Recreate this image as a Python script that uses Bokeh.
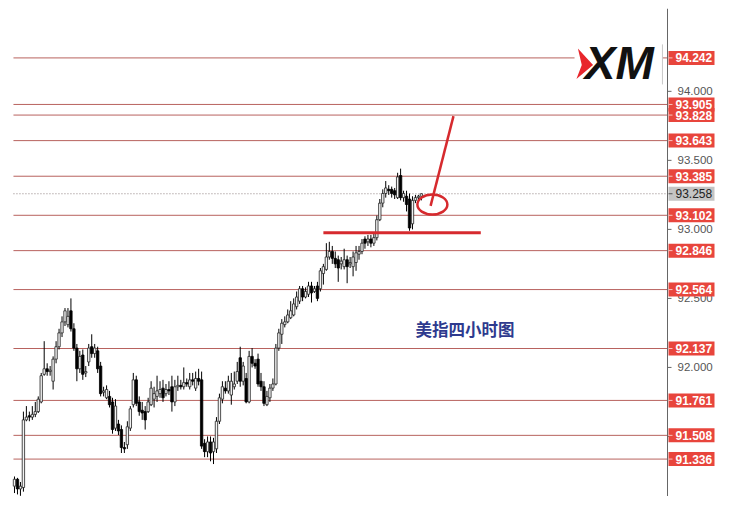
import numpy as np
from bokeh.plotting import figure
from bokeh.models import Range1d
from bokeh.embed import file_html
from bokeh.resources import INLINE
from bokeh.core.properties import value

# ---- data (USD index, 4h candles) ----
opens = [91.14, 91.19, 91.12, 91.13, 91.62, 91.65, 91.64, 91.66, 91.68, 91.75,
         91.95, 91.99, 91.97, 91.90, 92.06, 92.15, 92.25, 92.33, 92.31, 92.41,
         92.28, 92.14, 91.99, 92.09, 91.96, 92.04, 92.15, 92.10, 92.12, 92.01,
         91.82, 91.78, 91.79, 91.75, 91.56, 91.59, 91.55, 91.42, 91.44, 91.56,
         91.73, 91.91, 91.75, 91.69, 91.68, 91.68, 91.73, 91.77, 91.79, 91.81,
         91.85, 91.81, 91.84, 91.86, 91.75, 91.86, 91.87, 91.86, 91.89, 91.86,
         91.91, 91.85, 91.92, 91.91, 91.45, 91.39, 91.46, 91.39, 91.41, 91.61,
         91.77, 91.85, 91.83, 91.80, 91.86, 91.90, 92.07, 91.90, 91.92, 91.75,
         92.08, 92.03, 92.06, 91.90, 91.86, 91.73, 91.78, 91.85, 91.88, 92.14,
         92.24, 92.31, 92.33, 92.36, 92.38, 92.44, 92.48, 92.57, 92.51, 92.53,
         92.59, 92.55, 92.59, 92.57, 92.68, 92.71, 92.80, 92.84, 92.79, 92.78,
         92.75, 92.73, 92.78, 92.75, 92.73, 92.76, 92.82, 92.84, 92.93, 92.91,
         92.93, 92.90, 92.94, 93.07, 93.19, 93.26, 93.29, 93.29, 93.28, 93.23,
         93.39, 93.23, 93.24, 93.22, 93.04, 93.21, 93.23, 93.24]
highs = [91.21, 91.20, 91.17, 91.68, 91.72, 91.68, 91.72, 91.75, 91.79, 91.96,
         92.19, 92.03, 92.01, 92.08, 92.19, 92.28, 92.37, 92.43, 92.43, 92.50,
         92.32, 92.17, 92.12, 92.13, 92.01, 92.17, 92.24, 92.17, 92.15, 92.04,
         91.86, 91.87, 91.83, 91.78, 91.77, 91.62, 91.58, 91.46, 91.61, 91.72,
         91.96, 91.94, 91.79, 91.75, 91.72, 91.78, 91.90, 91.86, 91.94, 91.90,
         91.91, 91.88, 91.90, 91.94, 91.91, 91.94, 91.91, 92.00, 91.92, 91.96,
         91.96, 91.97, 91.99, 91.97, 91.48, 91.50, 91.50, 91.49, 91.64, 91.81,
         91.90, 91.90, 91.94, 91.96, 91.97, 92.04, 92.15, 92.04, 91.96, 92.12,
         92.14, 92.06, 92.10, 91.96, 91.90, 91.83, 91.88, 91.92, 92.17, 92.28,
         92.35, 92.37, 92.42, 92.48, 92.50, 92.55, 92.59, 92.59, 92.58, 92.62,
         92.62, 92.59, 92.62, 92.72, 92.75, 92.90, 92.91, 92.88, 92.84, 92.81,
         92.80, 92.86, 92.81, 92.80, 92.84, 92.88, 92.88, 92.93, 92.95, 92.96,
         92.96, 92.97, 93.10, 93.22, 93.29, 93.35, 93.32, 93.31, 93.30, 93.41,
         93.44, 93.28, 93.28, 93.26, 93.24, 93.25, 93.25, 93.26]
lows = [91.09, 91.08, 91.07, 91.10, 91.61, 91.61, 91.62, 91.64, 91.67, 91.74,
        91.94, 91.94, 91.94, 91.84, 92.03, 92.13, 92.22, 92.30, 92.29, 92.26,
        92.12, 91.90, 91.96, 91.91, 91.93, 92.01, 92.07, 92.07, 91.96, 91.79,
        91.79, 91.77, 91.71, 91.52, 91.54, 91.51, 91.38, 91.38, 91.41, 91.54,
        91.71, 91.72, 91.65, 91.62, 91.55, 91.67, 91.72, 91.71, 91.75, 91.78,
        91.75, 91.79, 91.80, 91.68, 91.72, 91.83, 91.84, 91.84, 91.86, 91.84,
        91.87, 91.83, 91.87, 91.41, 91.35, 91.35, 91.32, 91.30, 91.38, 91.59,
        91.74, 91.81, 91.81, 91.73, 91.84, 91.88, 91.86, 91.87, 91.74, 91.74,
        92.00, 91.99, 91.86, 91.83, 91.72, 91.72, 91.75, 91.83, 91.87, 92.12,
        92.17, 92.29, 92.32, 92.35, 92.37, 92.42, 92.46, 92.48, 92.50, 92.51,
        92.47, 92.54, 92.48, 92.55, 92.60, 92.70, 92.78, 92.75, 92.72, 92.62,
        92.71, 92.71, 92.61, 92.72, 92.66, 92.70, 92.78, 92.82, 92.86, 92.88,
        92.87, 92.88, 92.92, 93.06, 93.16, 93.23, 93.25, 93.23, 93.22, 93.22,
        93.21, 93.20, 93.13, 92.99, 93.00, 93.19, 93.20, 93.21]
closes = [91.19, 91.12, 91.14, 91.62, 91.64, 91.64, 91.66, 91.68, 91.77, 91.94,
          91.99, 91.97, 91.98, 92.06, 92.15, 92.25, 92.33, 92.41, 92.37, 92.28,
          92.14, 91.99, 92.08, 91.95, 91.97, 92.14, 92.10, 92.14, 91.99, 91.81,
          91.83, 91.84, 91.73, 91.55, 91.72, 91.54, 91.42, 91.41, 91.57, 91.70,
          91.91, 91.74, 91.68, 91.67, 91.62, 91.75, 91.85, 91.81, 91.83, 91.84,
          91.78, 91.84, 91.83, 91.75, 91.86, 91.87, 91.86, 91.89, 91.88, 91.91,
          91.90, 91.92, 91.90, 91.43, 91.39, 91.46, 91.38, 91.46, 91.61, 91.78,
          91.86, 91.83, 91.90, 91.90, 91.88, 91.97, 91.90, 92.01, 91.75, 92.08,
          92.03, 92.01, 91.88, 91.86, 91.74, 91.79, 91.85, 91.88, 92.14, 92.25,
          92.32, 92.33, 92.38, 92.41, 92.46, 92.51, 92.57, 92.51, 92.55, 92.59,
          92.54, 92.57, 92.50, 92.70, 92.73, 92.80, 92.84, 92.79, 92.75, 92.72,
          92.77, 92.78, 92.73, 92.76, 92.80, 92.83, 92.84, 92.90, 92.90, 92.93,
          92.90, 92.94, 93.07, 93.19, 93.26, 93.30, 93.28, 93.26, 93.25, 93.38,
          93.23, 93.26, 93.18, 93.01, 93.21, 93.23, 93.24, 93.258]

levels = [94.242, 93.905, 93.828, 93.643, 93.385, 93.102, 92.846, 92.564,
          92.137, 91.761, 91.508, 91.336]
current_price = 93.258
support_level = 92.975
axis_ticks = [91.5, 92.0, 92.5, 93.0, 93.5, 94.0]
chart_title = "美指四小时图"
logo_text = "XM"

# ---- geometry (candle-index units / price units) ----
PX = 2.97            # pixels per candle
PY = 0.007247        # price per pixel
FW = 716             # frame width in pixels
X0 = -2.02
X1 = X0 + FW / PX
Y0, Y1 = 91.065, 94.60
AX = X0 + 659 / PX   # price-axis position (right edge of chart area)

support_x = (104, 157)
circle_xy = (140.7, 93.18)
arrow_from = (140.1, 93.17)
arrow_to = (147.8, 93.82)
title_xy = (135.0, 92.28)

n = len(closes)
idx = np.arange(n)
o = np.array(opens); h = np.array(highs); l = np.array(lows); c = np.array(closes)
inc = c >= o

p = figure(frame_width=FW, frame_height=488,
           x_range=Range1d(X0, X1), y_range=Range1d(Y0, Y1),
           x_axis_location=None, y_axis_location=None,
           output_backend="svg", toolbar_location=None,
           min_border_left=8, min_border_top=8, min_border_bottom=0, min_border_right=0,
           background_fill_color="white", border_fill_color="white")
p.outline_line_color = None
p.grid.grid_line_color = None

# horizontal level lines
line_start = idx[0] - 0.35
nl = len(levels)
p.segment(x0=[line_start] * nl, y0=levels, x1=[AX] * nl, y1=levels,
          line_color="#b8625e", line_width=1)
p.segment(x0=[line_start], y0=[current_price], x1=[AX], y1=[current_price],
          line_color="#8f8080", line_width=1, line_dash="1 2")

# candles
p.segment(idx, h, idx, l, line_color="black", line_width=1)
p.vbar(x=idx[inc], width=0.8, top=c[inc], bottom=o[inc],
       fill_color="#f2f2f2", line_color="#222222", line_width=0.8)
p.vbar(x=idx[~inc], width=0.8, top=o[~inc], bottom=c[~inc],
       fill_color="black", line_color="black", line_width=0.8)

# support line, circle and arrow
p.segment(x0=[support_x[0]], y0=[support_level], x1=[support_x[1]], y1=[support_level],
          line_color="#d62a2e", line_width=3)
p.ellipse(x=[circle_xy[0]], y=[circle_xy[1]], width=10.1, height=0.145,
          fill_color=None, line_color="#d62a2e", line_width=2.5)
p.segment(x0=[arrow_from[0]], y0=[arrow_from[1]], x1=[arrow_to[0]], y1=[arrow_to[1]],
          line_color="#d62a2e", line_width=2.5)

# chart caption
p.text(x=[title_xy[0]], y=[title_xy[1]], text=[chart_title],
       text_font=value("Noto Sans CJK SC"), text_font_size="16.5px",
       text_font_style="bold", text_color="#2e3a8e", text_baseline="middle")

# XM logo
p.quad(left=[AX - 31.3], right=[AX - 1.8], bottom=[94.045], top=[94.36],
       fill_color="white", line_color=None)
p.patch(x=[189.7, 194.8, 189.2, 191.0], y=[94.31, 94.19, 94.09, 94.19],
        fill_color="#e8262c", line_color=None)
p.text(x=[192.0], y=[94.205], text=[logo_text],
       text_font=value("Liberation Sans"), text_font_size="46px",
       text_font_style="bold italic", text_color="#111111", text_baseline="middle")
p.segment(x0=[AX - 1.7], y0=[94.05], x1=[AX - 1.7], y1=[94.34],
          line_color="#c8c8c8", line_width=1)

# price axis: line, ticks, labels
p.segment(x0=[AX], y0=[Y0], x1=[AX], y1=[Y1], line_color="#666666", line_width=1)
nt = len(axis_ticks)
p.segment(x0=[AX] * nt, y0=axis_ticks, x1=[AX + 4 / PX] * nt, y1=axis_ticks,
          line_color="#666666", line_width=1)
p.text(x=[AX + 10 / PX] * nt, y=axis_ticks, text=[f"{t:.3f}" for t in axis_ticks],
       text_font=value("Liberation Sans"), text_font_size="11.5px",
       text_color="#555555", text_baseline="middle")

# price tags
tag_h = 14 * PY
p.quad(left=[AX + 1 / PX] * nl, right=[AX + 47 / PX] * nl,
       bottom=[v - tag_h / 2 for v in levels], top=[v + tag_h / 2 for v in levels],
       fill_color="#e8453c", line_color=None)
p.segment(x0=[AX + 1 / PX] * nl, y0=levels, x1=[AX + 5 / PX] * nl, y1=levels,
          line_color="#f6c4bf", line_width=1)
p.text(x=[AX + 8 / PX] * nl, y=levels, text=[f"{v:.3f}" for v in levels],
       text_font=value("Liberation Sans"), text_font_size="12px", text_font_style="bold",
       text_color="white", text_baseline="middle")
p.quad(left=[AX + 1 / PX], right=[AX + 47 / PX],
       bottom=[current_price - tag_h / 2], top=[current_price + tag_h / 2],
       fill_color="#c4c4c4", line_color=None)
p.segment(x0=[AX + 1 / PX], y0=[current_price], x1=[AX + 5 / PX], y1=[current_price],
          line_color="#555555", line_width=1)
p.text(x=[AX + 8 / PX], y=[current_price], text=[f"{current_price:.3f}"],
       text_font=value("Liberation Sans"), text_font_size="12px",
       text_color="#222222", text_baseline="middle")

open("out.html", "w").write(file_html(p, INLINE))
